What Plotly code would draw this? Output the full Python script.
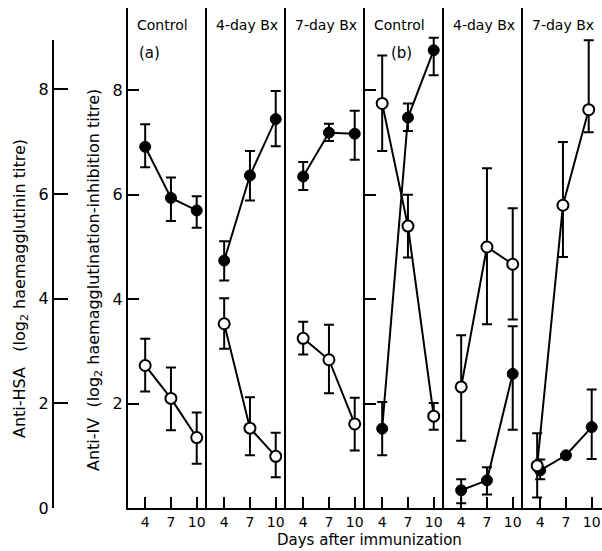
import plotly.graph_objects as go

# ---------------- data ----------------
days = [4, 7, 10]
day_labels = ["4", "7", "10"]
panel_titles = ["Control", "4-day Bx", "7-day Bx", "Control", "4-day Bx", "7-day Bx"]
panel_tags = ["(a)", "", "", "(b)", "", ""]

# filled circles (mean, upper end of bar, lower end of bar) per panel
filled_mean = [
    [6.92, 5.94, 5.70],
    [4.74, 6.37, 7.45],
    [6.35, 7.19, 7.17],
    [1.52, 7.48, 8.77],
    [0.34, 0.53, 2.57],
    [0.72, 1.01, 1.55],
]
filled_hi = [
    [7.35, 6.33, 5.97],
    [5.11, 6.84, 7.99],
    [6.63, 7.36, 7.61],
    [2.03, 7.75, 9.01],
    [0.55, 0.78, 3.48],
    [0.93, 1.01, 2.27],
]
filled_lo = [
    [6.53, 5.50, 5.37],
    [4.36, 5.89, 6.93],
    [6.09, 7.03, 6.67],
    [1.01, 7.22, 8.29],
    [0.09, 0.26, 1.50],
    [0.55, 1.01, 0.94],
]

# open circles
open_mean = [
    [2.73, 2.10, 1.35],
    [3.53, 1.53, 0.99],
    [3.25, 2.84, 1.61],
    [7.75, 5.40, 1.76],
    [2.32, 5.00, 4.67],
    [0.81, 5.80, 7.63],
]
open_hi = [
    [3.24, 2.69, 1.83],
    [4.02, 2.12, 1.44],
    [3.57, 3.51, 2.11],
    [8.67, 6.00, 2.01],
    [3.31, 6.51, 5.74],
    [1.43, 7.01, 8.96],
]
open_lo = [
    [2.23, 1.49, 0.85],
    [3.05, 1.01, 0.59],
    [2.94, 2.20, 1.10],
    [6.84, 4.80, 1.50],
    [1.29, 3.52, 3.61],
    [0.20, 4.81, 7.20],
]
# small horizontal dodge of the open series (days)
open_shift = [0, 0, 0, 0, 0, -0.35]

iv_ticks = [2, 4, 6, 8]
hsa_ticks = [0, 2, 4, 6, 8]

# ---------------- layout geometry ----------------
W, H = 602, 551
TOP, BOT = 8, 508          # plot area in px
PLOT_H = BOT - TOP
LEFT0, PW = 128, 79        # first panel left edge, panel width
FONT = "DejaVu Sans"


def fx(px):
    return px / W


def fy(py):
    return (BOT - py) / PLOT_H


fig = go.Figure()


def ax(i, kind):
    return kind if i == 0 else f"{kind}{i + 1}"


# dummy trace to show the Anti-HSA axis (drawn first, underneath)
fig.add_trace(go.Scatter(x=[None], y=[None], xaxis="x", yaxis="y7",
                         showlegend=False, hoverinfo="skip"))

for i in range(6):
    xr, yr = ax(i, "x"), ax(i, "y")
    # filled
    fm = filled_mean[i]
    fig.add_trace(go.Scatter(
        x=days, y=fm, xaxis=xr, yaxis=yr, mode="lines+markers",
        line=dict(color="black", width=2),
        marker=dict(symbol="circle", size=11, color="black",
                    line=dict(color="black", width=1)),
        error_y=dict(type="data", symmetric=False,
                     array=[h - m for h, m in zip(filled_hi[i], fm)],
                     arrayminus=[m - l for m, l in zip(fm, filled_lo[i])],
                     color="black", thickness=2, width=5),
        showlegend=False, hoverinfo="skip"))
    # open
    om = open_mean[i]
    fig.add_trace(go.Scatter(
        x=[d + open_shift[i] for d in days], y=om, xaxis=xr, yaxis=yr,
        mode="lines+markers",
        line=dict(color="black", width=2),
        marker=dict(symbol="circle", size=11, color="white",
                    line=dict(color="black", width=2)),
        error_y=dict(type="data", symmetric=False,
                     array=[h - m for h, m in zip(open_hi[i], om)],
                     arrayminus=[m - l for m, l in zip(om, open_lo[i])],
                     color="black", thickness=2, width=5),
        showlegend=False, hoverinfo="skip"))

layout = dict(
    width=W, height=H,
    margin=dict(l=0, r=0, t=TOP, b=H - BOT, pad=0),
    paper_bgcolor="white", plot_bgcolor="rgba(0,0,0,0)",
    font=dict(family=FONT, color="black", size=14),
    showlegend=False,
)

y_range = [0, PLOT_H / 52.2]

for i in range(6):
    d0 = (LEFT0 + PW * i) / W
    d1 = min(1.0, (LEFT0 + PW * (i + 1)) / W)
    layout["xaxis" if i == 0 else f"xaxis{i + 1}"] = dict(
        domain=[d0, d1], range=[2, 2 + PW / 8.59], anchor=ax(i, "y"),
        tickvals=days, ticktext=day_labels, ticks="inside", ticklen=11,
        tickwidth=2, tickcolor="black", showline=True, linewidth=2,
        linecolor="black", showgrid=False, zeroline=False,
        tickfont=dict(size=14, family=FONT), fixedrange=True,
    )
    yd = dict(
        domain=[0, 1], range=y_range, anchor=ax(i, "x"),
        showline=True, linewidth=2, linecolor="black",
        showgrid=False, zeroline=False, fixedrange=True,
        tickvals=iv_ticks, tickwidth=2, tickcolor="black",
    )
    if i == 0:
        yd.update(ticks="inside", ticklen=11, showticklabels=True,
                  tickfont=dict(size=16, family=FONT))
    elif i == 3:
        yd.update(ticks="inside", ticklen=11, showticklabels=False,
                  matches="y")
    else:
        yd.update(ticks="", showticklabels=False, matches="y")
    layout["yaxis" if i == 0 else f"yaxis{i + 1}"] = yd

# Anti-HSA axis (outer)
hsa_top_px = 40
layout["yaxis7"] = dict(
    anchor="free", position=fx(53), domain=[0, fy(hsa_top_px)],
    range=[0, (BOT - hsa_top_px) / 52.35],
    tickvals=hsa_ticks, ticks="inside", ticklen=14, tickwidth=2,
    tickcolor="black", showline=True, linewidth=2, linecolor="black",
    showgrid=False, zeroline=False, fixedrange=True,
    tickfont=dict(size=16, family=FONT),
)

annotations = []
for i in range(6):
    left = LEFT0 + PW * i
    annotations.append(dict(
        text=panel_titles[i], xref="paper", yref="paper",
        x=fx(left + 7), y=fy(25), xanchor="left", yanchor="middle",
        showarrow=False, font=dict(size=14, family=FONT)))
    if panel_tags[i]:
        off = 9 if i == 0 else 24
        annotations.append(dict(
            text=panel_tags[i], xref="paper", yref="paper",
            x=fx(left + off), y=fy(53), xanchor="left", yanchor="middle",
            showarrow=False, font=dict(size=15, family=FONT)))

annotations.append(dict(
    text="Anti-HSA   (log<sub>2</sub> haemagglutinin titre)",
    xref="paper", yref="paper", x=fx(20), y=fy(289), textangle=-90,
    xanchor="center", yanchor="middle", showarrow=False,
    font=dict(size=16, family=FONT)))
annotations.append(dict(
    text="Anti-IV  (log<sub>2</sub> haemagglutination-inhibition titre)",
    xref="paper", yref="paper", x=fx(94), y=fy(280), textangle=-90,
    xanchor="center", yanchor="middle", showarrow=False,
    font=dict(size=16, family=FONT)))
annotations.append(dict(
    text="Days after immunization", xref="paper", yref="paper",
    x=fx(369), y=fy(540), xanchor="center", yanchor="middle",
    showarrow=False, font=dict(size=15, family=FONT)))

layout["annotations"] = annotations
fig.update_layout(**layout)
fig.write_html("out.html",
               config={"displayModeBar": False},
               post_script="document.body.style.margin='0px';"
                           "document.body.style.padding='0px';")
